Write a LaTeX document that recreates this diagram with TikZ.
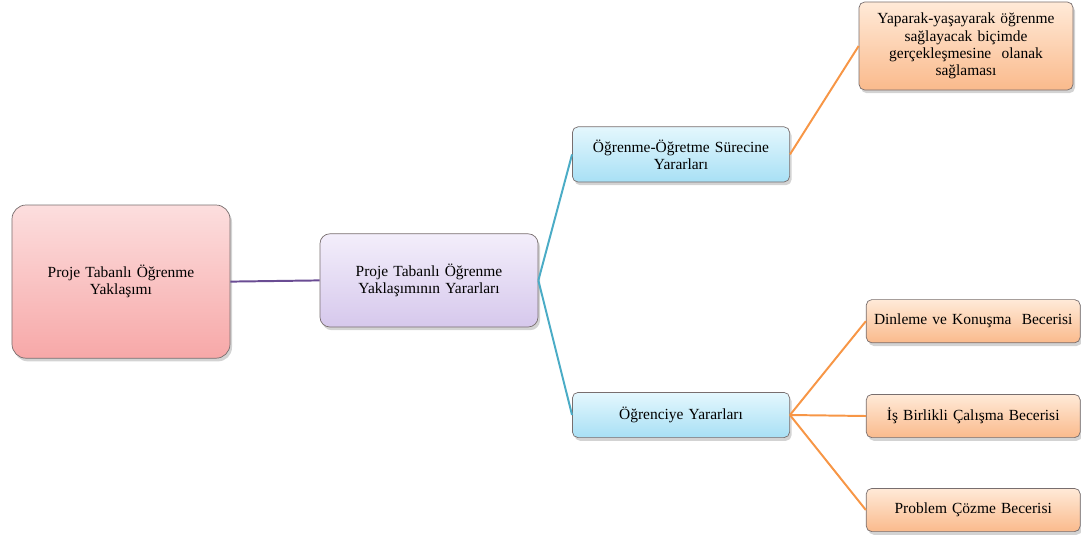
\documentclass[tikz,border=0pt]{standalone}
\usepackage{fontspec}
\setmainfont{Liberation Serif}
\usepackage{tikz}
\usetikzlibrary{positioning,shadows}

\definecolor{pinktop}{RGB}{252,222,222}
\definecolor{pinkbot}{RGB}{247,168,168}
\definecolor{purptop}{RGB}{243,238,251}
\definecolor{purpbot}{RGB}{214,200,236}
\definecolor{cyantop}{RGB}{228,247,253}
\definecolor{cyanbot}{RGB}{168,224,245}
\definecolor{orantop}{RGB}{255,234,216}
\definecolor{oranbot}{RGB}{250,186,140}
\definecolor{boxline}{RGB}{120,110,110}
\definecolor{purpline}{RGB}{106,76,147}
\definecolor{tealline}{RGB}{75,172,198}
\definecolor{oranline}{RGB}{247,150,70}

\begin{document}
\begin{tikzpicture}[
  font=\fontsize{11}{12.2}\selectfont,
  basebox/.style={draw=boxline,line width=0.5pt,rounded corners=4pt,align=center,
    drop shadow={shadow xshift=0.5mm,shadow yshift=-0.8mm,opacity=0.35}},
  rootbox/.style={basebox,rounded corners=10pt,top color=pinktop,bottom color=pinkbot,
    minimum width=5.45cm,minimum height=3.83cm,text width=4.8cm},
  midbox/.style={basebox,rounded corners=7pt,top color=purptop,bottom color=purpbot,
    minimum width=5.45cm,minimum height=2.33cm,text width=4.8cm},
  subbox/.style={basebox,top color=cyantop,bottom color=cyanbot,
    minimum width=5.43cm,text width=5cm},
  leafbox/.style={basebox,top color=orantop,bottom color=oranbot,
    minimum width=5.35cm,text width=5cm},
  link/.style={line width=1.4pt}
]
\useasboundingbox (0,0) rectangle (27.025,-13.45);

\node[rootbox] (pba) at (3.025,-7.04) {Proje Tabanlı Öğrenme\\Yaklaşımı};
\node[midbox] (yarar) at (10.725,-7.01) {Proje Tabanlı Öğrenme\\Yaklaşımının Yararları};
\node[subbox,minimum height=1.38cm] (surec) at (17.025,-3.86) {Öğrenme-Öğretme Sürecine\\Yararları};
\node[subbox,minimum height=1.13cm] (ogrenci) at (17.025,-10.375) {Öğrenciye Yararları};
\node[leafbox,minimum height=2.2cm,text width=4.9cm] (yasayarak) at (24.15,-1.15)
  {Yaparak-yaşayarak öğrenme\\sağlayacak biçimde\\gerçekleşmesine \ olanak\\sağlaması};
\node[leafbox,minimum height=1.08cm] (dinleme) at (24.33,-8.03) {Dinleme ve Konuşma \ Becerisi};
\node[leafbox,minimum height=1.08cm] (isbirligi) at (24.33,-10.4) {İş Birlikli Çalışma Becerisi};
\node[leafbox,minimum height=1.08cm] (problem) at (24.33,-12.75) {Problem Çözme Becerisi};

\draw[link,purpline] (pba.east) -- (yarar.west);
\draw[link,tealline] (yarar.east) -- (surec.west);
\draw[link,tealline] (yarar.east) -- (ogrenci.west);
\draw[link,oranline] (surec.east) -- (yasayarak.west);
\draw[link,oranline] (ogrenci.east) -- (dinleme.west);
\draw[link,oranline] (ogrenci.east) -- (isbirligi.west);
\draw[link,oranline] (ogrenci.east) -- (problem.west);
\end{tikzpicture}
\end{document}
